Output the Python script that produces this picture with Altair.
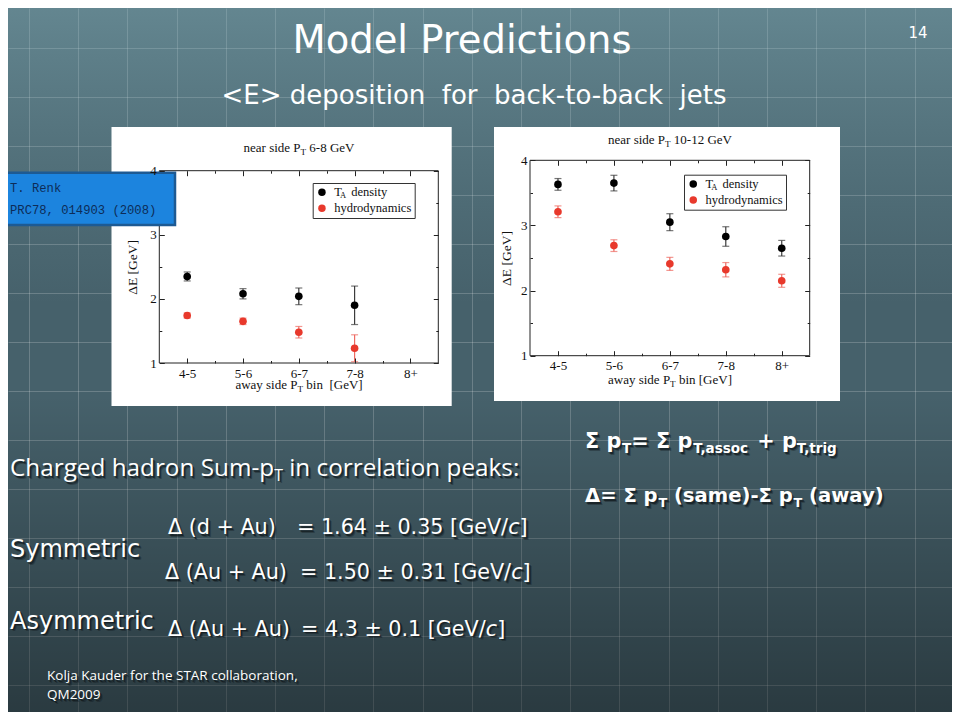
import json
import altair as alt
import pandas as pd

W, H = 944, 704

# ---------------- data ----------------
bins = ["4-5", "5-6", "6-7", "7-8", "8+"]
series_names = ["T_A density", "hydrodynamics"]

# near side pT 6-8 GeV
left_ta_val = [2.35, 2.08, 2.04, 1.90]
left_ta_err = [0.07, 0.08, 0.13, 0.30]
left_hy_val = [1.74, 1.65, 1.48, 1.23]
left_hy_err = [0.04, 0.05, 0.09, 0.21]

# near side pT 10-12 GeV
right_ta_val = [3.63, 3.65, 3.05, 2.83, 2.65]
right_ta_err = [0.09, 0.12, 0.13, 0.15, 0.12]
right_hy_val = [3.21, 2.69, 2.41, 2.32, 2.15]
right_hy_err = [0.09, 0.09, 0.10, 0.11, 0.10]

y_major = [1, 2, 3, 4]
y_ticks = [1, 1.5, 2, 2.5, 3, 3.5, 4]
x_major = [0, 1, 2, 3, 4]
x_ticks = [0, 0.5, 1, 1.5, 2, 2.5, 3, 3.5, 4]

# ---------------- styling ----------------
SERIF = "Liberation Serif"
SANS = "DejaVu Sans"
HUM = "Open Sans"
MONO = "Liberation Mono"
INK = "#111111"
AXC = "#222222"
WHITE = "#ffffff"

TIMES = {" ": .25, "a": .444, "b": .5, "c": .444, "d": .5, "e": .444, "f": .333, "g": .5,
         "h": .5, "i": .278, "k": .5, "m": .778, "n": .5, "o": .5, "p": .5, "r": .333,
         "s": .389, "t": .278, "u": .5, "v": .5, "w": .722, "y": .5, "-": .333, "[": .333,
         "]": .333, "G": .722, "V": .722, "P": .556, "T": .611, "A": .722}
for _d in "0123456789":
    TIMES[_d] = .5
DJV = {" ": .318, "(": .39, ")": .39, "+": .838, "=": .838, "±": .838, ".": .318, "/": .337,
       "[": .39, "]": .39, "-": .361, "A": .684, "G": .775, "V": .684, "Δ": .684,
       "c": .55, "d": .635, "e": .615, "u": .634}
for _d in "0123456789":
    DJV[_d] = .636
DJVB = {" ": .348, "(": .457, ")": .457, "+": .838, "=": .838, "-": .415, ",": .381,
        "T": .684, "Δ": .774, "Σ": .72, "a": .675, "c": .592, "e": .678, "g": .716,
        "i": .343, "m": 1.042, "o": .687, "p": .716, "r": .493, "s": .595, "t": .478,
        "w": .922, "y": .65}
OPEN = {" ": .26, "C": .633, "h": .613, "a": .556, "r": .408, "g": .548, "e": .561,
        "d": .613, "o": .604, "n": .613, "S": .539, "u": .613, "m": .93, "-": .322,
        "p": .613, "T": .543, "i": .253, "c": .476, "l": .253, "t": .344, "s": .477,
        "k": .525, ":": .266}

dummy = pd.DataFrame({"k": [0]})


def tw(s, size, table):
    return sum(table.get(ch, 0.55) for ch in s) * size


def txt(s, x, y, size, font, color, weight="normal", style="normal", align="left",
        baseline="alphabetic", shadow=False):
    s = s.replace(" ", "\u00a0")
    out = []
    if shadow:
        for d, op in ((2.6, 0.30), (1.6, 0.55)):
            out.append(alt.Chart(dummy).mark_text(
                text=s, font=font, fontSize=size, fontWeight=weight, fontStyle=style,
                align=align, baseline=baseline, color="#0a0f12", opacity=op
            ).encode(x=alt.value(x + d), y=alt.value(y + d)))
    out.append(alt.Chart(dummy).mark_text(
        text=s, font=font, fontSize=size, fontWeight=weight, fontStyle=style,
        align=align, baseline=baseline, color=color
    ).encode(x=alt.value(x), y=alt.value(y)))
    return out


def runs(parts, x, y, size, font, table, color, weight="normal", shadow=False,
         anchor="left", sub_scale=0.65, sub_dy=0.22):
    sizes = [size * sub_scale if k == "s" else size for _, k in parts]
    widths = [tw(t, fs, table) for (t, _), fs in zip(parts, sizes)]
    cx = x - (sum(widths) / 2 if anchor == "center" else 0)
    out = []
    for (t, k), fs, w in zip(parts, sizes, widths):
        yy = y + size * sub_dy if k == "s" else y
        core = t.lstrip(" ")
        lead = tw(t[: len(t) - len(core)], fs, table)
        out += txt(core.rstrip(" "), cx + lead, yy, fs, font, color, weight=weight,
                   style="italic" if k == "i" else "normal", shadow=shadow)
        cx += w
    return out


def rect(x, y, x2, y2, **kw):
    return alt.Chart(dummy).mark_rect(**kw).encode(
        x=alt.value(x), y=alt.value(y), x2=alt.value(x2), y2=alt.value(y2))


def build_df(ta_v, ta_e, hy_v, hy_e):
    rows = []
    for name, vals, errs in ((series_names[0], ta_v, ta_e), (series_names[1], hy_v, hy_e)):
        for i, (v, e) in enumerate(zip(vals, errs)):
            rows.append({"bin": bins[i], "idx": i, "series": name, "val": v,
                         "lo": round(v - e, 3), "hi": round(v + e, 3)})
    return pd.DataFrame(rows)


def panel(df, x0, x1, yb, yt, lx, ly, ytitle_x, left_edge_ticks):
    xs = alt.Scale(domain=[-0.5, 4.5], range=[x0, x1], nice=False, zero=False)
    ys = alt.Scale(domain=[1, 4], range=[yb, yt], nice=False, zero=False)
    err_c = alt.Scale(domain=series_names, range=["#3c3c3c", "#ee6b62"])
    dot_c = alt.Scale(domain=series_names, range=["#000000", "#e8392c"])
    tsz = {"condition": {"test": "datum.value % 1 === 0", "value": 5}, "value": 2.5}
    inner = dict(labels=False, domain=False, grid=False, title=None, tickSize=tsz,
                 tickColor=AXC, tickWidth=1, zindex=1)
    ax_left_in = alt.Axis(orient="right", offset=x0 - W, values=left_edge_ticks, **inner)
    ax_right_in = alt.Axis(orient="left", offset=-x1, values=y_ticks, **inner)
    ax_bot_in = alt.Axis(orient="top", offset=-yb, values=x_ticks, **inner)
    ax_top_in = alt.Axis(orient="bottom", offset=yt - H, values=x_ticks, **inner)
    lab = dict(ticks=False, tickSize=0, domain=False, grid=False, labelFont=SERIF,
               labelFontSize=13, labelColor=INK, labelFlush=False, labelOverlap=False,
               zindex=1)
    ax_x_lab = alt.Axis(orient="bottom", offset=yb - H, values=x_major,
                        labelExpr=json.dumps(bins) + "[datum.value]", labelPadding=4,
                        title=None, **lab)
    ax_y_lab = alt.Axis(orient="left", offset=-x0, values=y_major, labelPadding=3,
                        title="ΔE [GeV]", titleFont=SERIF, titleFontSize=13.5,
                        titleFontWeight="normal", titleColor=INK, titleAngle=270,
                        titleAlign="center", titleBaseline="middle",
                        titleX=ytitle_x - x0, titleY=(yb + yt) / 2, **lab)

    frame = alt.Chart(dummy).mark_rect(filled=False, stroke=AXC, strokeWidth=1).encode(
        x=alt.XDatum(-0.5, type="quantitative", scale=xs, axis=None),
        x2=alt.X2Datum(4.5),
        y=alt.YDatum(1, type="quantitative", scale=ys, axis=None),
        y2=alt.Y2Datum(4),
    )
    base = alt.Chart(df)
    rule = base.mark_rule(strokeWidth=1.2).encode(
        x=alt.X("idx:Q", scale=xs, axis=ax_x_lab),
        y=alt.Y("lo:Q", scale=ys, axis=ax_y_lab),
        y2="hi:Q",
        color=alt.Color("series:N", scale=err_c, legend=None),
    )
    cap_lo = base.mark_tick(orient="horizontal", size=7, thickness=1.2).encode(
        x=alt.X("idx:Q", scale=xs, axis=ax_bot_in),
        y=alt.Y("lo:Q", scale=ys, axis=ax_left_in),
        color=alt.Color("series:N", scale=err_c, legend=None),
    )
    cap_hi = base.mark_tick(orient="horizontal", size=7, thickness=1.2).encode(
        x=alt.X("idx:Q", scale=xs, axis=ax_top_in),
        y=alt.Y("hi:Q", scale=ys, axis=ax_right_in),
        color=alt.Color("series:N", scale=err_c, legend=None),
    )
    pts = base.mark_circle(size=58, opacity=1).encode(
        x=alt.X("idx:Q", scale=xs, axis=None),
        y=alt.Y("val:Q", scale=ys, axis=None),
        color=alt.Color("series:N", scale=dot_c, legend=alt.Legend(
            orient="none", legendX=lx, legendY=ly, title=None, direction="vertical",
            strokeColor="#333333", padding=3, symbolType="circle",
            symbolSize=56, symbolStrokeWidth=0, symbolOpacity=1, labelFont=SERIF,
            labelFontSize=12.5, labelColor=INK, labelOffset=6, rowPadding=3,
            labelExpr="datum.label === 'T_A density' ? 'T\u00a0\u00a0\u00a0density' : datum.label",
        )),
    )
    return [frame, rule, cap_lo, cap_hi, pts]


left_df = build_df(left_ta_val, left_ta_err, left_hy_val, left_hy_err)
right_df = build_df(right_ta_val, right_ta_err, right_hy_val, right_hy_err)

layers = []

# background grid (axis grid, drawn behind marks)
grid_x = [21 + 49.2 * k for k in range(19)]
grid_y = [40 + 49 * k for k in range(14)]
layers.append(alt.Chart(dummy).mark_point(opacity=0).encode(
    x=alt.X("k:Q", scale=alt.Scale(domain=[0, W], range=[0, W], nice=False, zero=False),
            axis=alt.Axis(values=grid_x, grid=True, gridColor="#ffffff", gridOpacity=0.2,
                          labels=False, ticks=False, domain=False, title=None, zindex=0)),
    y=alt.Y("k:Q", scale=alt.Scale(domain=[0, H], range=[0, H], nice=False, zero=False),
            axis=alt.Axis(values=grid_y, grid=True, gridColor="#ffffff", gridOpacity=0.2,
                          labels=False, ticks=False, domain=False, title=None, zindex=0)),
))

# lighting gradient over the slate background
layers.append(rect(0, 0, W, H, fill={
    "gradient": "linear", "x1": 0, "y1": 0, "x2": 0, "y2": 1,
    "stops": [
        {"offset": 0, "color": "rgba(140,185,195,0.42)"},
        {"offset": 0.42, "color": "rgba(120,160,170,0.0)"},
        {"offset": 0.55, "color": "rgba(0,0,0,0.0)"},
        {"offset": 1, "color": "rgba(0,0,0,0.40)"},
    ]}))

# white figure cards
layers.append(rect(103.5, 119, 443.7, 398, fill="#ffffff"))
layers.append(rect(486, 119, 832, 393, fill="#ffffff"))

layers += panel(left_df, 151.3, 430.3, 355, 162.7, 304.7, 175, 124.5,
                [1, 1.5, 2, 2.5, 3, 4])
layers += panel(right_df, 522, 801.7, 347.7, 152.3, 676, 166.7, 498, y_ticks)

# panel titles / x titles with subscripts
layers += runs([("near side P", "n"), ("T", "s"), (" 6-8 GeV", "n")], 291, 144, 13,
               SERIF, TIMES, INK, anchor="center", sub_scale=0.7, sub_dy=0.25)
layers += runs([("near side P", "n"), ("T", "s"), (" 10-12 GeV", "n")], 662, 136, 13,
               SERIF, TIMES, INK, anchor="center", sub_scale=0.7, sub_dy=0.25)
layers += runs([("away side P", "n"), ("T", "s"), (" bin  [GeV]", "n")], 291, 381, 13,
               SERIF, TIMES, INK, anchor="center", sub_scale=0.7, sub_dy=0.25)
layers += runs([("away side P", "n"), ("T", "s"), (" bin [GeV]", "n")], 662, 376, 13,
               SERIF, TIMES, INK, anchor="center", sub_scale=0.7, sub_dy=0.25)
# legend subscript A (sits in the gap left in the legend label)
layers += txt("A", 331.9, 190.0, 8.5, SERIF, INK)
layers += txt("A", 703.2, 181.7, 8.5, SERIF, INK)

# slide headings
layers += txt("Model Predictions", 454, 45, 38.5, SANS, WHITE, align="center")
layers += txt("<E> deposition  for  back-to-back  jets", 466, 95.5, 26, SANS, WHITE,
              align="center")
layers += txt("14", 910, 30.3, 15, SANS, WHITE, align="center")

# lower text block
layers += runs([("Charged hadron Sum-p", "n"), ("T", "s"), (" in correlation peaks:", "n")],
               2, 468, 24.3, HUM, OPEN, WHITE, shadow=True, sub_dy=0.2)
layers += txt("Symmetric", 2, 549, 24, SANS, WHITE, shadow=True)
layers += txt("Asymmetric", 2, 620.5, 24, SANS, WHITE, shadow=True)

FS = 20.7
layers += txt("Δ (d + Au)", 160, 526, FS, SANS, WHITE, shadow=True)
layers += runs([("= 1.64 ± 0.35 [GeV/", "n"), ("c", "i"), ("]", "n")], 289, 526, FS,
               SANS, DJV, WHITE, shadow=True)
layers += txt("Δ (Au + Au)", 157, 571, FS, SANS, WHITE, shadow=True)
layers += runs([("= 1.50 ± 0.31 [GeV/", "n"), ("c", "i"), ("]", "n")], 292, 571, FS,
               SANS, DJV, WHITE, shadow=True)
layers += txt("Δ (Au + Au)", 160, 627.7, FS, SANS, WHITE, shadow=True)
layers += runs([("= 4.3 ± 0.1 [GeV/", "n"), ("c", "i"), ("]", "n")], 293, 627.7, FS,
               SANS, DJV, WHITE, shadow=True)

layers += runs([("Σ p", "n"), ("T", "s"), ("= Σ p", "n"), ("T,assoc", "s"), (" + p", "n"),
                ("T,trig", "s")], 577, 440, 20.8, SANS, DJVB, WHITE, weight="bold",
               shadow=True, sub_dy=0.25)
layers += runs([("Δ= Σ p", "n"), ("T", "s"), (" (same)-Σ p", "n"), ("T", "s"),
                (" (away)", "n")], 577, 494, 19.6, SANS, DJVB, WHITE, weight="bold",
               shadow=True, sub_dy=0.25)

layers += txt("Kolja Kauder for the STAR collaboration,", 39, 672, 13.5, HUM, WHITE,
              shadow=True)
layers += txt("QM2009", 39, 691, 13.5, HUM, WHITE, shadow=True)

# reference tag
layers.append(rect(-7, 164.7, 167, 217, fill="#1c84de", stroke="#1d5a93", strokeWidth=2.5))
layers += txt("T. Renk", 2, 183.7, 12.2, MONO, "#0d2c57")
layers += txt("PRC78, 014903 (2008)", 2, 206, 12.2, MONO, "#0d2c57")

chart = alt.layer(*layers).properties(
    width=W, height=H, padding=0, autosize=alt.AutoSizeParams(type="none"),
    background="#46616b",
).resolve_scale(
    x="independent", y="independent", color="independent"
).resolve_axis(
    x="independent", y="independent"
).resolve_legend(
    color="independent"
).configure_view(fill="#46616b", strokeWidth=0)

chart.save("out.html", embed_options={"renderer": "svg", "actions": False})
